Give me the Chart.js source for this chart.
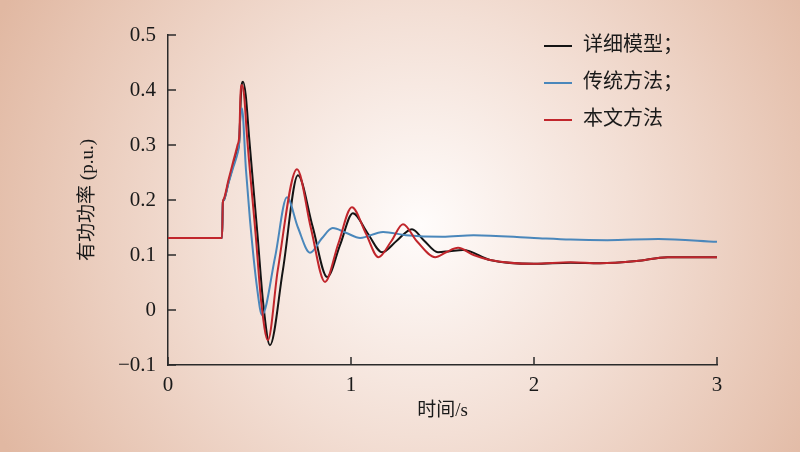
<!DOCTYPE html>
<html>
<head>
<meta charset="utf-8">
<script src="https://cdn.jsdelivr.net/npm/chart.js@4.4.1/dist/chart.umd.min.js"></script>
<style>
  body { margin: 0; background: #e4beac; }
  #wrap { width: 800px; height: 452px; }
</style>
</head>
<body>
<div id="wrap"><canvas id="myChart" width="800" height="452"></canvas></div>
<script>
  // time (s) and active power (p.u.)
  const tDetail = [0, 0.295, 0.30, 0.305, 0.33, 0.355, 0.38, 0.39, 0.399, 0.41, 0.425, 0.443, 0.49, 0.52, 0.557, 0.628, 0.71, 0.79, 0.87, 0.94, 1.01, 1.09, 1.17, 1.25, 1.333, 1.40, 1.475, 1.54, 1.612, 1.76, 2.0, 2.2, 2.36, 2.56, 2.73, 3.0];
  const pDetail = [0.131, 0.131, 0.196, 0.2, 0.232, 0.262, 0.29, 0.31, 0.395, 0.415, 0.39, 0.315, 0.133, 0.013, -0.064, 0.073, 0.245, 0.152, 0.06, 0.118, 0.176, 0.14, 0.105, 0.126, 0.147, 0.126, 0.105, 0.107, 0.109, 0.091, 0.084, 0.086, 0.085, 0.089, 0.096, 0.096];

  const tOld = [0, 0.295, 0.30, 0.305, 0.33, 0.355, 0.38, 0.388, 0.395, 0.404, 0.426, 0.448, 0.486, 0.514, 0.585, 0.65, 0.71, 0.776, 0.84, 0.90, 0.975, 1.05, 1.175, 1.30, 1.5, 1.67, 2.0, 2.2, 2.4, 2.68, 3.0];
  const pOld = [0.131, 0.131, 0.196, 0.2, 0.23, 0.258, 0.285, 0.30, 0.35, 0.367, 0.255, 0.164, 0.042, -0.009, 0.096, 0.205, 0.15, 0.104, 0.13, 0.149, 0.14, 0.131, 0.142, 0.136, 0.133, 0.136, 0.131, 0.128, 0.127, 0.129, 0.124];

  const tNew = [0, 0.295, 0.30, 0.305, 0.33, 0.355, 0.38, 0.39, 0.396, 0.404, 0.416, 0.432, 0.48, 0.51, 0.546, 0.60, 0.705, 0.78, 0.858, 0.93, 1.005, 1.08, 1.15, 1.22, 1.284, 1.36, 1.46, 1.52, 1.585, 1.67, 1.76, 2.0, 2.2, 2.36, 2.56, 2.73, 3.0];
  const pNew = [0.131, 0.131, 0.196, 0.202, 0.236, 0.268, 0.30, 0.32, 0.39, 0.409, 0.39, 0.315, 0.133, 0.013, -0.055, 0.073, 0.256, 0.15, 0.051, 0.12, 0.187, 0.14, 0.096, 0.125, 0.156, 0.125, 0.096, 0.105, 0.113, 0.10, 0.091, 0.084, 0.087, 0.085, 0.089, 0.096, 0.096];

  const seriesNames = ['详细模型；', '传统方法；', '本文方法'];
  const seriesColors = ['#141414', '#4a87bb', '#c1262c'];
  const xTicks = [0, 1, 2, 3];
  const yTicks = [-0.1, 0, 0.1, 0.2, 0.3, 0.4, 0.5];

  const toPoints = (ts, ps) => ts.map((t, i) => ({ x: t, y: ps[i] }));

  const axisColor = '#2a2a2a';
  const serif = '"Liberation Serif", "Noto Sans CJK SC", serif';

  // radial background behind everything
  const bgPlugin = {
    id: 'bg',
    beforeDraw(chart) {
      const ctx = chart.ctx;
      const g = ctx.createRadialGradient(420, 225, 0, 420, 225, 470);
      g.addColorStop(0, '#fffcfb');
      g.addColorStop(0.45, '#f3dfd5');
      g.addColorStop(1, '#e1b8a2');
      ctx.save();
      ctx.fillStyle = g;
      ctx.fillRect(0, 0, chart.width, chart.height);
      ctx.restore();
    }
  };

  // tick marks pointing into the plot, plus the legend in the corner
  const decoPlugin = {
    id: 'deco',
    afterDraw(chart) {
      const ctx = chart.ctx;
      const xs = chart.scales.x, ys = chart.scales.y;
      ctx.save();
      ctx.strokeStyle = axisColor;
      ctx.lineWidth = 1.5;
      xTicks.forEach(v => {
        const px = xs.getPixelForValue(v);
        ctx.beginPath();
        ctx.moveTo(px, xs.top);
        ctx.lineTo(px, xs.top - 8);
        ctx.stroke();
      });
      yTicks.forEach(v => {
        const py = ys.getPixelForValue(v);
        ctx.beginPath();
        ctx.moveTo(ys.right, py);
        ctx.lineTo(ys.right + 8, py);
        ctx.stroke();
      });

      ctx.font = '20px ' + serif;
      ctx.textBaseline = 'middle';
      ctx.fillStyle = '#1a1a1a';
      seriesNames.forEach((name, i) => {
        const y = 46 + i * 37;
        ctx.strokeStyle = seriesColors[i];
        ctx.lineWidth = 2;
        ctx.beginPath();
        ctx.moveTo(544, y);
        ctx.lineTo(572, y);
        ctx.stroke();
        ctx.fillText(name, 583, y);
      });
      ctx.restore();
    }
  };

  function createChart() {
    const ctx = document.getElementById('myChart').getContext('2d');
    const order = [3, 2, 1];
    const sets = [[tDetail, pDetail], [tOld, pOld], [tNew, pNew]];
    new Chart(ctx, {
      type: 'line',
      data: {
        datasets: sets.map((s, i) => ({
          label: seriesNames[i],
          data: toPoints(s[0], s[1]),
          borderColor: seriesColors[i],
          borderWidth: 2,
          pointRadius: 0,
          cubicInterpolationMode: 'monotone',
          order: order[i],
        })),
      },
      options: {
        responsive: false,
        animation: false,
        layout: { padding: { left: 0, top: 35, right: 83, bottom: 0 } },
        plugins: { legend: { display: false }, tooltip: { enabled: false } },
        scales: {
          x: {
            type: 'linear',
            min: 0,
            max: 3,
            afterFit: s => { s.height = 87; },
            afterBuildTicks: s => { s.ticks = xTicks.map(v => ({ value: v })); },
            grid: { display: false, drawTicks: false },
            border: { display: true, color: axisColor, width: 1.5 },
            ticks: { padding: 8, color: '#1a1a1a', font: { family: serif, size: 21 } },
            title: {
              display: true,
              text: '时间/s',
              color: '#1a1a1a',
              font: { family: serif, size: 19 },
              padding: { top: 0, bottom: 30 },
            },
          },
          y: {
            min: -0.1,
            max: 0.5,
            afterFit: s => { s.width = 168; },
            afterBuildTicks: s => { s.ticks = yTicks.map(v => ({ value: v })); },
            grid: { display: false, drawTicks: false },
            border: { display: true, color: axisColor, width: 1.5 },
            ticks: {
              padding: 12,
              color: '#1a1a1a',
              font: { family: serif, size: 21 },
              callback: v => (Math.abs(v) < 1e-9 ? '0' : v.toFixed(1).replace('-', '\u2212')),
            },
            title: {
              display: true,
              text: '有功功率 (p.u.)',
              color: '#1a1a1a',
              font: { family: serif, size: 19 },
              padding: { top: 77, bottom: 0 },
            },
          },
        },
      },
      plugins: [bgPlugin, decoPlugin],
    });
  }

  createChart();
</script>
</body>
</html>
